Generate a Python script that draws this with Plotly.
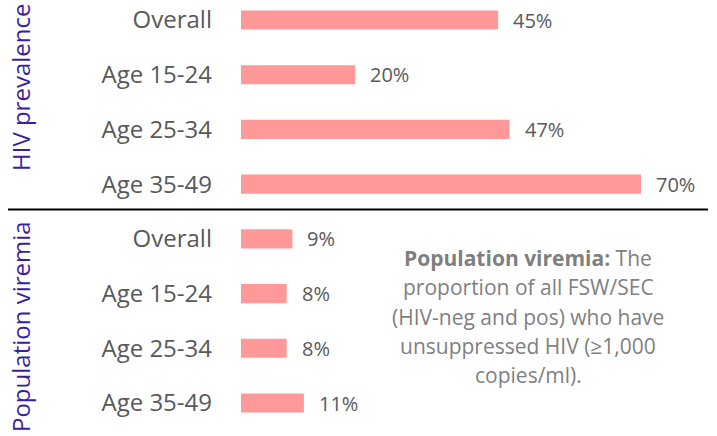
import plotly.graph_objects as go

categories = ["Overall", "Age 15-24", "Age 25-34", "Age 35-49"]
groups = ["HIV prevalence", "Population viremia"]
hiv_prevalence = [45, 20, 47, 70]
population_viremia = [9, 8, 8, 11]
note_lines = [
    "<b>Population viremia:</b> The",
    "proportion of all FSW/SEC",
    "(HIV-neg and pos) who have",
    "unsuppressed HIV (\u22651,000",
    "copies/ml).",
]

FONT = "Open Sans"
BAR = "#ff9999"
GRAY = "#595959"
PURPLE = "#3a1f9c"

ykeys = [f"{g}|{c}" for g in groups for c in categories]
yticks = categories + categories
values = hiv_prevalence + population_viremia

W, H = 717, 436
L, R, T, B = 241, 0, 0, 0
pw = W - L - R
px_per_unit = (641 - 241) / 70.0
xmax = pw / px_per_unit

fig = go.Figure()
fig.add_trace(go.Bar(
    x=values, y=ykeys, orientation="h",
    marker=dict(color=BAR, line=dict(width=0)),
    width=0.35, hoverinfo="skip",
))

for k, v in zip(ykeys, values):
    fig.add_annotation(x=v, y=k, xref="x", yref="y", text=f"{v}%",
                       showarrow=False, xanchor="left", yanchor="middle",
                       xshift=13, font=dict(family=FONT, size=20, color=GRAY))

# group labels
fig.add_annotation(x=(20 - L) / pw, y=1 - 88 / H, xref="paper", yref="paper",
                   text=groups[0], textangle=-90, showarrow=False,
                   xanchor="center", yanchor="middle",
                   font=dict(family=FONT, size=24, color=PURPLE))
fig.add_annotation(x=(20 - L) / pw, y=1 - 327 / H, xref="paper", yref="paper",
                   text=groups[1], textangle=-90, showarrow=False,
                   xanchor="center", yanchor="middle",
                   font=dict(family=FONT, size=24, color=PURPLE))

# note text
for i, line in enumerate(note_lines):
    yc = 258 + i * 29.3
    fig.add_annotation(x=(528 - L) / pw, y=1 - yc / H, xref="paper", yref="paper",
                       text=line, showarrow=False, xanchor="center", yanchor="middle",
                       font=dict(family=FONT, size=21, color="#7f7f7f"))

# separator line
fig.add_shape(type="line", xref="paper", yref="paper",
              x0=(8 - L) / pw, x1=(708 - L) / pw,
              y0=1 - 209.5 / H, y1=1 - 209.5 / H,
              line=dict(color="black", width=2))

unit = (403 - 20) / 7.0
fig.update_layout(
    width=W, height=H,
    margin=dict(l=L, r=R, t=T, b=B),
    paper_bgcolor="white", plot_bgcolor="white",
    showlegend=False,
    hovermode=False,
    xaxis=dict(range=[0, xmax], visible=False, fixedrange=True),
    yaxis=dict(
        type="category", categoryorder="array", categoryarray=ykeys,
        tickmode="array", tickvals=ykeys, ticktext=yticks,
        range=[7 + (H - 403) / unit, -20 / unit],
        showgrid=False, zeroline=False, showline=False, ticks="",
        ticklabelstandoff=28, fixedrange=True,
        tickfont=dict(family=FONT, size=24, color=GRAY),
    ),
)

fig.write_html("out.html", config={"displayModeBar": False},
               post_script="document.body.style.margin='0';document.body.style.overflow='hidden';")
